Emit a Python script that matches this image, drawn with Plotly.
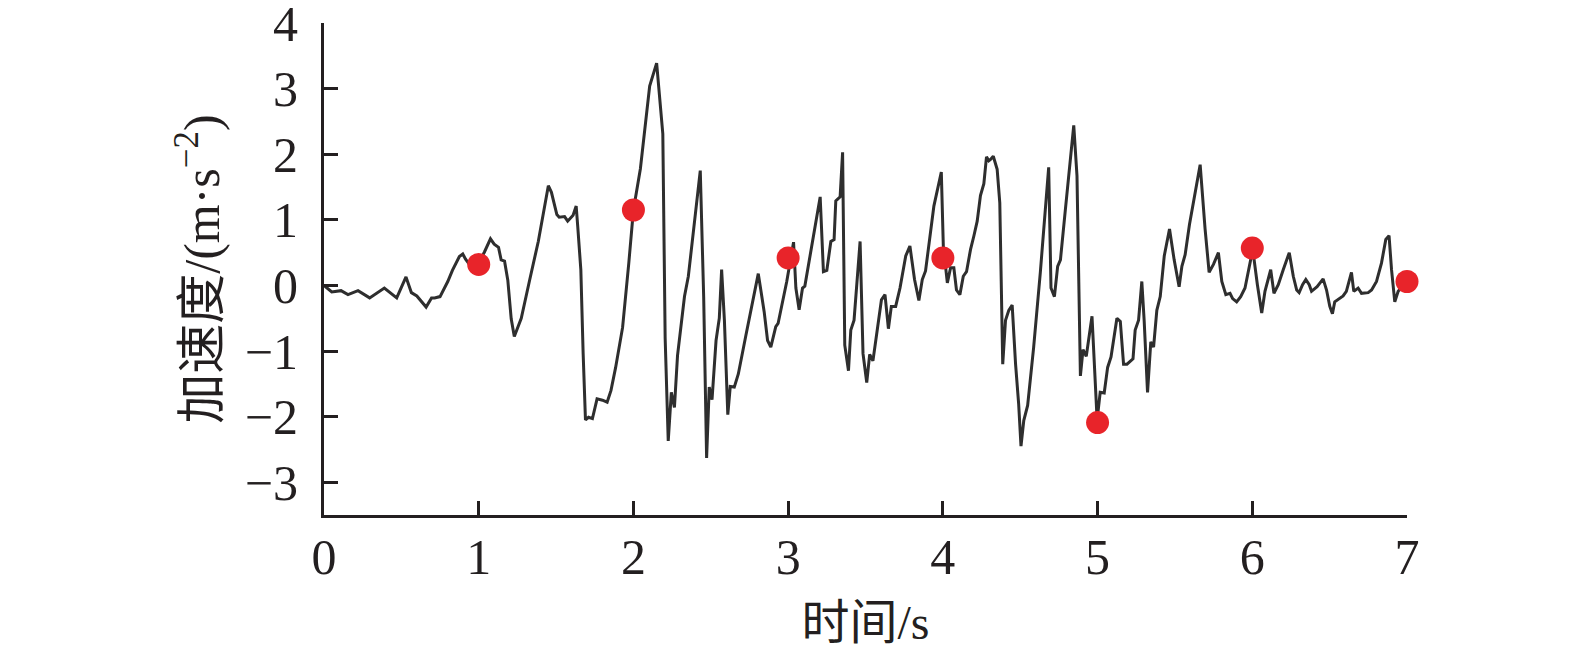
import plotly.graph_objects as go

time_s = [
    0.00, 0.05, 0.11, 0.155, 0.22, 0.295, 0.39, 0.47, 0.53, 0.565, 0.60, 0.66, 0.695, 0.715, 0.75, 0.80, 0.83, 0.875, 0.897, 0.915, 0.94,
    1.00, 1.037, 1.076, 1.10, 1.128, 1.145, 1.167, 1.188, 1.21, 1.23, 1.275, 1.33, 1.385, 1.45, 1.47, 1.505, 1.52, 1.555, 1.575, 1.61, 1.63, 1.64, 1.66, 1.675, 1.69, 1.71, 1.735, 1.765, 1.80, 1.83, 1.855, 1.885, 1.93, 1.97,
    2.00, 2.045, 2.08, 2.105, 2.15, 2.19, 2.205, 2.225, 2.245, 2.265, 2.285, 2.33, 2.355, 2.405, 2.432, 2.454, 2.473, 2.49, 2.508, 2.534, 2.555, 2.57, 2.588, 2.61, 2.626, 2.652, 2.678, 2.727, 2.807, 2.845, 2.867, 2.888, 2.92, 2.935, 2.963, 2.991,
    3.035, 3.05, 3.071, 3.093, 3.108, 3.136, 3.168, 3.207, 3.228, 3.25, 3.276, 3.297, 3.308, 3.336, 3.352, 3.366, 3.39, 3.405, 3.426, 3.465, 3.484, 3.508, 3.527, 3.548, 3.577, 3.603, 3.626, 3.648, 3.667, 3.695, 3.723, 3.76, 3.787, 3.817, 3.845, 3.867, 3.888, 3.91, 3.942, 3.99,
    4.003, 4.029, 4.05, 4.071, 4.088, 4.11, 4.132, 4.153, 4.179, 4.2, 4.222, 4.243, 4.265, 4.282, 4.297, 4.308, 4.326, 4.351, 4.368, 4.387, 4.405, 4.426, 4.448, 4.47, 4.49, 4.505, 4.523, 4.548, 4.587, 4.63, 4.662, 4.684, 4.699, 4.721, 4.742, 4.76, 4.792, 4.824, 4.846, 4.867, 4.889, 4.906, 4.927, 4.964, 4.979, 4.997,
    5.017, 5.043, 5.065, 5.087, 5.125, 5.147, 5.168, 5.19, 5.229, 5.243, 5.265, 5.286, 5.301, 5.323, 5.344, 5.362, 5.383, 5.405, 5.431, 5.465, 5.495, 5.527, 5.545, 5.566, 5.594, 5.631, 5.663, 5.695, 5.721, 5.749, 5.781, 5.803, 5.829, 5.856, 5.873, 5.899, 5.925, 5.953, 5.975,
    6.003, 6.033, 6.061, 6.082, 6.119, 6.14, 6.168, 6.2, 6.239, 6.265, 6.287, 6.303, 6.325, 6.346, 6.368, 6.383, 6.419, 6.458, 6.48, 6.501, 6.518, 6.533, 6.561, 6.587, 6.608, 6.626, 6.641, 6.656, 6.684, 6.706, 6.749, 6.771, 6.803, 6.835, 6.863, 6.884, 6.9, 6.921, 6.943, 7.00,
]

accel = [
    0.00, -0.10, -0.08, -0.14, -0.08, -0.19, -0.04, -0.19, 0.13, -0.11, -0.16, -0.33, -0.19, -0.19, -0.17, 0.06, 0.23, 0.44, 0.48, 0.40, 0.32,
    0.34, 0.51, 0.71, 0.63, 0.58, 0.39, 0.37, 0.08, -0.51, -0.78, -0.50, 0.09, 0.67, 1.52, 1.42, 1.08, 1.04, 1.05, 0.98, 1.07, 1.21, 0.90, 0.24, -1.04, -2.05, -2.01, -2.03, -1.73, -1.75, -1.78, -1.60, -1.25, -0.64, 0.34,
    1.15, 1.78, 2.50, 3.04, 3.39, 2.31, -0.80, -2.37, -1.63, -1.86, -1.07, -0.17, 0.14, 1.16, 1.75, -0.17, -2.63, -1.55, -1.74, -0.84, -0.50, 0.24, -0.53, -1.97, -1.54, -1.55, -1.35, -0.76, 0.18, -0.40, -0.84, -0.94, -0.63, -0.58, -0.25, 0.06,
    0.66, -0.04, -0.37, -0.04, -0.01, 0.39, 0.85, 1.35, 0.21, 0.23, 0.67, 0.70, 1.29, 1.35, 2.03, -0.91, -1.30, -0.68, -0.53, 0.67, -1.04, -1.48, -1.05, -1.15, -0.66, -0.22, -0.14, -0.66, -0.32, -0.32, -0.04, 0.45, 0.60, 0.09, -0.23, 0.09, 0.22, 0.62, 1.21, 1.73,
    0.60, 0.04, 0.27, 0.27, -0.07, -0.14, 0.14, 0.21, 0.55, 0.75, 0.98, 1.37, 1.55, 1.96, 1.90, 1.92, 1.97, 1.77, 1.26, -1.20, -0.53, -0.38, -0.30, -1.20, -1.81, -2.45, -2.06, -1.83, -0.94, 0.20, 1.10, 1.80, -0.04, -0.17, 0.29, 0.39, 1.16, 1.94, 2.44, 1.67, -1.38, -0.98, -1.08, -0.47, -1.20, -2.05,
    -1.63, -1.64, -1.25, -1.09, -0.50, -0.55, -1.20, -1.20, -1.12, -0.68, -0.53, 0.06, -0.53, -1.63, -0.86, -0.94, -0.38, -0.17, 0.45, 0.86, 0.39, -0.02, 0.29, 0.47, 0.93, 1.42, 1.84, 0.86, 0.20, 0.32, 0.50, 0.06, -0.14, -0.12, -0.20, -0.25, -0.17, -0.04, 0.21,
    0.55, 0.01, -0.42, -0.09, 0.24, -0.12, 0.01, 0.24, 0.50, 0.14, -0.07, -0.11, 0.01, 0.09, 0.01, -0.09, -0.02, 0.10, -0.07, -0.32, -0.43, -0.25, -0.21, -0.16, -0.09, 0.06, 0.20, -0.09, -0.04, -0.12, -0.11, -0.07, 0.06, 0.34, 0.70, 0.76, 0.24, -0.25, -0.09, 0.06,
]

marker_t = [1, 2, 3, 4, 5, 6, 7]
marker_a = [0.32, 1.15, 0.42, 0.42, -2.09, 0.57, 0.06]

x_ticks = [0, 1, 2, 3, 4, 5, 6, 7]
y_ticks = [-3, -2, -1, 0, 1, 2, 3, 4]

x_title = "时间/s"
y_title = "加速度/(m·s<sup>−2</sup>)"

FONT = "Liberation Serif, Times New Roman, Noto Sans CJK SC, serif"
AXIS_COLOR = "#231f20"

fig = go.Figure()
fig.add_trace(go.Scatter(
    x=time_s, y=accel, mode="lines",
    line=dict(color="#2e2e2e", width=3),
    hoverinfo="skip", showlegend=False,
))
fig.add_trace(go.Scatter(
    x=marker_t, y=marker_a, mode="markers",
    marker=dict(color="#e8242a", size=23, line=dict(width=0)),
    cliponaxis=False, showlegend=False,
))

fig.update_layout(
    width=1575, height=655,
    margin=dict(l=324, r=168, t=23, b=140, autoexpand=False),
    paper_bgcolor="white", plot_bgcolor="white",
    font=dict(family=FONT, size=50, color="#231f20"),
    showlegend=False,
)
fig.update_xaxes(
    range=[0, 7], tickvals=x_ticks, ticktext=[str(v) for v in x_ticks],
    showline=True, linecolor=AXIS_COLOR, linewidth=3,
    ticks="inside", ticklen=14, tickwidth=2.5, tickcolor=AXIS_COLOR,
    showgrid=False, zeroline=False,
    tickfont=dict(family=FONT, size=50),
    ticklabelstandoff=-4, ticklabeloverflow="allow",
    title=dict(text=x_title, font=dict(family=FONT, size=48), standoff=22),
    automargin=False,
)
fig.update_yaxes(
    range=[-3.5, 4.001], tickvals=y_ticks,
    showline=True, linecolor=AXIS_COLOR, linewidth=3,
    ticks="inside", ticklen=14, tickwidth=2.5, tickcolor=AXIS_COLOR,
    showgrid=False, zeroline=False,
    tickfont=dict(family=FONT, size=50),
    ticklabelstandoff=13, ticklabeloverflow="allow",
    title=dict(text=y_title, font=dict(family=FONT, size=50), standoff=10),
    automargin=False,
)

fig.write_html(
    "out.html",
    config={"displayModeBar": False},
    post_script="document.body.style.margin='0';",
)
